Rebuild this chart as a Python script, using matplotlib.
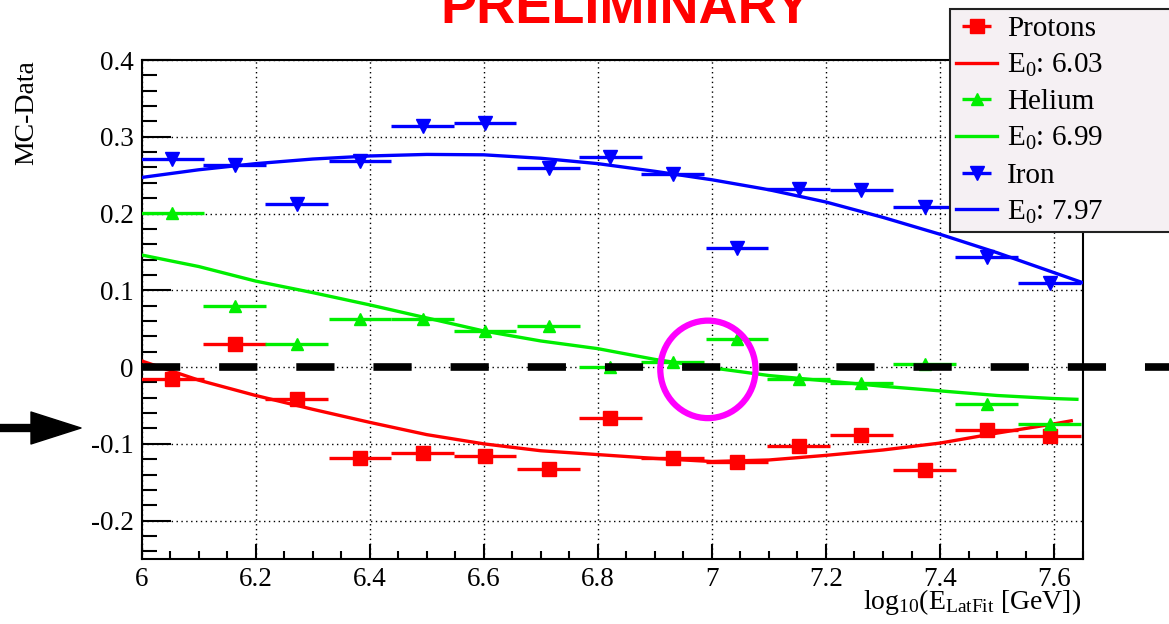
import matplotlib
matplotlib.use("Agg")
import matplotlib.pyplot as plt
from matplotlib.patches import Ellipse, FancyArrowPatch
from matplotlib.ticker import MultipleLocator

plt.rcParams['font.family'] = ['Liberation Serif', 'DejaVu Serif']
plt.rcParams['mathtext.fontset'] = 'custom'
plt.rcParams['mathtext.rm'] = 'Liberation Serif'
plt.rcParams['mathtext.it'] = 'Liberation Serif:italic'
plt.rcParams['axes.unicode_minus'] = False

# bin centres in log10(E/GeV), half bin width
bins = [6.054, 6.163, 6.272, 6.383, 6.493, 6.602, 6.714, 6.822,
        6.931, 7.044, 7.152, 7.262, 7.373, 7.482, 7.592]
half = 0.055

# MC - Data per bin
protons = [-0.016, 0.030, -0.042, -0.119, -0.112, -0.116, -0.133, -0.066,
           -0.119, -0.123, -0.103, -0.089, -0.134, -0.082, -0.090]
helium = [0.201, 0.079, 0.030, 0.062, 0.062, 0.047, 0.053, 0.000,
          0.007, 0.037, -0.016, -0.021, 0.004, -0.048, -0.074]
iron = [0.271, 0.263, 0.213, 0.268, 0.314, 0.318, 0.259, 0.274,
        0.251, 0.155, 0.232, 0.231, 0.208, 0.143, 0.110]

# fitted curves
fit_x_p = [6.0, 6.1, 6.2, 6.3, 6.4, 6.5, 6.6, 6.7, 6.8, 6.9, 7.0,
           7.1, 7.2, 7.3, 7.4, 7.5, 7.6, 7.63]
fit_p = [0.008, -0.017, -0.037, -0.055, -0.072, -0.088, -0.100, -0.109, -0.114,
         -0.119, -0.123, -0.121, -0.115, -0.108, -0.099, -0.086, -0.074, -0.070]
fit_x_he = [6.0, 6.1, 6.2, 6.3, 6.4, 6.5, 6.6, 6.7, 6.8, 6.9, 7.0,
            7.1, 7.2, 7.3, 7.4, 7.5, 7.6, 7.64]
fit_he = [0.146, 0.131, 0.112, 0.097, 0.081, 0.064, 0.047, 0.034, 0.024,
          0.010, -0.001, -0.011, -0.018, -0.025, -0.031, -0.037, -0.041, -0.042]
fit_x_fe = [6.0, 6.1, 6.2, 6.3, 6.4, 6.5, 6.6, 6.7, 6.8, 6.9, 7.0,
            7.1, 7.2, 7.3, 7.4, 7.5, 7.6, 7.65]
fit_fe = [0.247, 0.257, 0.265, 0.271, 0.275, 0.277, 0.2765, 0.272, 0.265,
          0.255, 0.244, 0.231, 0.215, 0.195, 0.173, 0.149, 0.123, 0.110]

labels = ['Protons', 'E$_0$: 6.03', 'Helium', 'E$_0$: 6.99', 'Iron', 'E$_0$: 7.97']
red, green, blue = '#ff0000', '#00ee00', '#0000ff'

fig = plt.figure(figsize=(11.69, 6.24), dpi=100)
ax = fig.add_axes([141.6 / 1169, 1 - 559 / 624, 941 / 1169, 499 / 624])

handles = []
for xf, yf, pts, col, mk, ms in [(fit_x_p, fit_p, protons, red, 's', 10.5),
                                 (fit_x_he, fit_he, helium, green, '^', 9),
                                 (fit_x_fe, fit_fe, iron, blue, 'v', 10.5)]:
    eb = ax.errorbar(bins, pts, xerr=half, fmt=mk, color=col, ms=ms,
                     elinewidth=2.4, capsize=0, zorder=4)
    ln, = ax.plot(xf, yf, color=col, lw=2.4, zorder=3)
    handles += [eb, ln]

# zero reference line running out to the page edge
ax.plot([6.0, 7.85], [0, 0], color='black', lw=5.5, linestyle=(0, (5.0, 5.1)),
        solid_capstyle='butt', clip_on=False, zorder=6)

ax.add_patch(Ellipse((6.993, -0.003), 0.167, 0.127, fill=False,
                     edgecolor='#ff00ff', lw=4.5, zorder=8))

ax.set_xlim(6.0, 7.65)
ax.set_ylim(-0.25, 0.4)
ax.set_xticks([6.0, 6.2, 6.4, 6.6, 6.8, 7.0, 7.2, 7.4, 7.6])
ax.set_xticklabels(['6', '6.2', '6.4', '6.6', '6.8', '7', '7.2', '7.4', '7.6'])
ax.set_yticks([-0.2, -0.1, 0.0, 0.1, 0.2, 0.3, 0.4])
ax.set_yticklabels(['-0.2', '-0.1', '0', '0.1', '0.2', '0.3', '0.4'])
ax.xaxis.set_minor_locator(MultipleLocator(0.05))
ax.yaxis.set_minor_locator(MultipleLocator(0.02))
ax.tick_params(which='both', direction='in', top=False, right=False, width=1.5)
ax.tick_params(axis='y', which='major', length=21, pad=5.5, labelsize=19.5)
ax.tick_params(axis='y', which='minor', length=10.5)
ax.tick_params(axis='x', which='major', length=10.5, pad=6.0, labelsize=19.5)
ax.tick_params(axis='x', which='minor', length=5.5)
ax.grid(which='major', color='black', linestyle=(0, (1, 2.5)), linewidth=1.0)
ax.set_axisbelow(True)
for s in ax.spines.values():
    s.set_linewidth(1.5)

leg = ax.legend(handles, labels, loc='upper left', mode='expand',
                bbox_to_anchor=(950 / 1169, 1 - 232 / 624, 0.3, 223 / 624),
                bbox_transform=fig.transFigure, borderaxespad=0, fontsize=21,
                handlelength=1.4, handletextpad=0.33, labelspacing=0.34,
                borderpad=0.22, fancybox=False, framealpha=1)
leg.get_frame().set_facecolor('#f5f0f3')
leg.get_frame().set_edgecolor('#222222')
leg.get_frame().set_linewidth(1.5)
leg.set_zorder(20)

fig.text(27 / 1169, 1 - 60 / 624, 'MC-Data', rotation=90, ha='center', va='top', fontsize=20)
fig.text(1081 / 1169, 1 - 609 / 624, r'log$_{10}$(E$_{\mathrm{LatFit}}$ [GeV])',
         ha='right', va='baseline', fontsize=20)
fig.text(626 / 1169, 1 - 23 / 624, 'PRELIMINARY', ha='center', va='baseline',
         color='red', fontweight='bold', family='Liberation Sans', fontsize=39)

fig.add_artist(FancyArrowPatch((0, 1 - 428 / 624), (81 / 1169, 1 - 428 / 624),
                               transform=fig.transFigure,
                               arrowstyle='simple,head_length=36,head_width=23,tail_width=5',
                               mutation_scale=1, color='black', shrinkA=0, shrinkB=0))

fig.savefig('out.png', dpi=100)
